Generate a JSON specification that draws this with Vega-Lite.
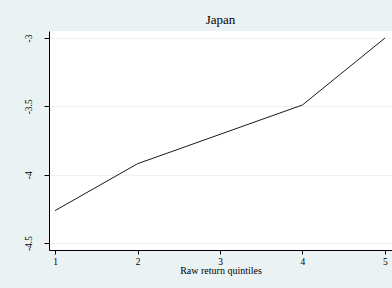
{
  "$schema": "https://vega.github.io/schema/vega-lite/v6.json",
  "width": 343,
  "height": 219,
  "autosize": {"type": "none"},
  "padding": {"left": 49, "top": 31, "right": 0, "bottom": 38},
  "background": "#eaf2f3",
  "config": {
    "font": "Liberation Serif",
    "view": {"fill": "white", "stroke": null}
  },
  "title": {"text": "Japan", "fontSize": 13, "fontWeight": "normal", "font": "Liberation Serif", "color": "#000000", "offset": 4, "anchor": "middle"},
  "data": {"values": [
    {"q": 1, "v": -4.263},
    {"q": 2, "v": -3.92},
    {"q": 4, "v": -3.49},
    {"q": 5, "v": -3.0}
  ]},
  "mark": {"type": "line", "color": "#1a1a1a", "strokeWidth": 1},
  "encoding": {
    "x": {
      "field": "q", "type": "quantitative",
      "scale": {"domain": [0.927, 5.085], "nice": false, "zero": false},
      "axis": {
        "values": [1, 2, 3, 4, 5], "title": "Raw return quintiles",
        "grid": false, "domainColor": "#000", "tickColor": "#000", "tickSize": 4,
        "labelFontSize": 9.5, "labelColor": "#000", "labelPadding": 2,
        "titleFontSize": 10, "titleFontWeight": "normal", "titleColor": "#000", "titlePadding": 0,
        "labelFont": "Liberation Serif", "titleFont": "Liberation Serif"
      }
    },
    "y": {
      "field": "v", "type": "quantitative",
      "scale": {"domain": [-4.551, -2.949], "nice": false, "zero": false},
      "axis": {
        "values": [-3, -3.5, -4, -4.5], "title": null,
        "labelExpr": "'' + datum.value",
        "grid": true, "gridColor": "#eaf2f3", "gridWidth": 1,
        "domainColor": "#000", "tickColor": "#000", "tickSize": 5,
        "labelFontSize": 9.5, "labelColor": "#000", "labelAngle": -90,
        "labelAlign": "center", "labelBaseline": "bottom", "labelPadding": 11,
        "labelFont": "Liberation Serif"
      }
    }
  }
}
